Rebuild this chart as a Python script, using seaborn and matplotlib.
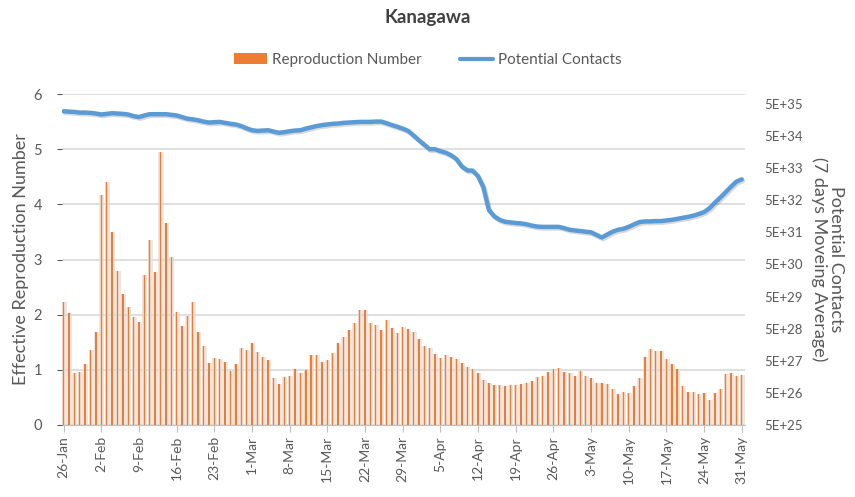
import numpy as np
import pandas as pd
import matplotlib
matplotlib.use("Agg")
import matplotlib.pyplot as plt
import matplotlib.patheffects as pe
from matplotlib.patches import Patch
from matplotlib.lines import Line2D
from matplotlib.ticker import FixedLocator, FuncFormatter, NullLocator
import seaborn as sns

# daily dates 26-Jan .. 31-May (2020)
dates = pd.date_range("2020-01-26", "2020-05-31", freq="D")

# effective reproduction number
repro = [2.23, 2.03, 0.94, 0.96, 1.11, 1.36, 1.69, 4.17, 4.40, 3.50,
         2.79, 2.38, 2.13, 1.96, 1.86, 2.71, 3.36, 2.77, 4.94, 3.67,
         3.05, 2.04, 1.79, 1.98, 2.23, 1.69, 1.44, 1.13, 1.21, 1.19,
         1.15, 0.98, 1.11, 1.40, 1.36, 1.48, 1.32, 1.23, 1.17, 0.85,
         0.75, 0.87, 0.88, 1.02, 0.94, 1.00, 1.27, 1.27, 1.15, 1.17,
         1.31, 1.48, 1.59, 1.73, 1.84, 2.08, 2.08, 1.84, 1.81, 1.73,
         1.90, 1.75, 1.67, 1.77, 1.74, 1.69, 1.56, 1.43, 1.40, 1.29,
         1.21, 1.27, 1.23, 1.20, 1.12, 1.06, 1.02, 0.94, 0.81, 0.77,
         0.72, 0.72, 0.71, 0.72, 0.73, 0.74, 0.77, 0.79, 0.87, 0.89,
         0.96, 1.02, 1.03, 0.96, 0.94, 0.89, 0.98, 0.88, 0.85, 0.77,
         0.77, 0.75, 0.65, 0.57, 0.60, 0.58, 0.71, 0.85, 1.23, 1.37,
         1.35, 1.35, 1.20, 1.11, 1.02, 0.71, 0.60, 0.60, 0.56, 0.58,
         0.46, 0.58, 0.65, 0.92, 0.94, 0.89, 0.91]

# potential contacts (7 day moving average), log10 of the value
contacts_log10 = [35.47, 35.46, 35.45, 35.43, 35.43, 35.42, 35.40, 35.37, 35.39, 35.41,
                  35.40, 35.39, 35.37, 35.32, 35.29, 35.34, 35.38, 35.38, 35.38, 35.38,
                  35.36, 35.34, 35.29, 35.24, 35.22, 35.19, 35.15, 35.12, 35.13, 35.14,
                  35.11, 35.08, 35.06, 35.01, 34.94, 34.88, 34.86, 34.87, 34.88, 34.84,
                  34.80, 34.82, 34.85, 34.87, 34.88, 34.93, 34.97, 35.01, 35.04, 35.06,
                  35.08, 35.09, 35.11, 35.12, 35.13, 35.14, 35.14, 35.14, 35.15, 35.15,
                  35.10, 35.04, 34.99, 34.93, 34.86, 34.72, 34.57, 34.43, 34.29, 34.29,
                  34.23, 34.18, 34.10, 33.98, 33.75, 33.63, 33.62, 33.45, 33.10, 32.40,
                  32.20, 32.09, 32.03, 32.01, 31.99, 31.98, 31.95, 31.91, 31.88, 31.87,
                  31.87, 31.87, 31.87, 31.83, 31.78, 31.76, 31.74, 31.72, 31.70, 31.62,
                  31.54, 31.63, 31.72, 31.78, 31.81, 31.87, 31.95, 32.02, 32.04, 32.04,
                  32.05, 32.05, 32.07, 32.09, 32.12, 32.15, 32.18, 32.22, 32.27, 32.33,
                  32.45, 32.62, 32.78, 32.95, 33.12, 33.28, 33.35]

left_ticks = [0, 1, 2, 3, 4, 5, 6]
right_exps = list(range(25, 36))

df = pd.DataFrame({"day": np.arange(len(dates)), "repro": repro,
                   "contacts": 10.0 ** np.array(contacts_log10)})
tick_days = list(range(0, len(dates), 7))
tick_labels = [f"{d.day}-{d.strftime('%b')}" for d in dates[tick_days]]

sns.set_style("white")
plt.rcParams["font.family"] = ["Lato", "DejaVu Sans"]
grey_txt = "#595959"
orange = "#ED7D31"
blue = "#5B9BD5"

fig = plt.figure(figsize=(8.55, 4.97), dpi=100)
ax = fig.add_axes([62 / 855, 1 - 425 / 497, (745 - 62) / 855, (425 - 94) / 497])

# shadow / halo / bar layers
ax.bar(df["day"] + 0.1, df["repro"], width=0.95, color="#a09890", alpha=0.22,
       linewidth=0, zorder=1)
ax.bar(df["day"], df["repro"], width=0.5, color="#F8CBAD", alpha=0.75,
       linewidth=0, zorder=2)
sns.barplot(data=df, x="day", y="repro", color=orange, width=0.26, saturation=1,
            ax=ax, zorder=3, native_scale=True, linewidth=0)

ax.set_xlim(-0.3, 126.6)
ax.set_ylim(0, 6)
ax.set_yticks(left_ticks)
ax.grid(axis="y", color="#d9d9d9", linewidth=1.2)
ax.set_axisbelow(False)
ax.set_xticks(tick_days)
ax.set_xticklabels(tick_labels, rotation=90)
ax.xaxis.set_minor_locator(NullLocator())
ax.tick_params(axis="x", bottom=True, length=5, color="#bfbfbf", colors=grey_txt,
               labelsize=10, pad=3)
ax.tick_params(axis="x", color="#bfbfbf")
ax.tick_params(axis="y", left=False, colors=grey_txt, labelsize=10.5, pad=11)
for s in ["top", "left", "right"]:
    ax.spines[s].set_visible(False)
ax.spines["bottom"].set_color("#bfbfbf")
ax.set_xlabel("")
ax.set_ylabel("Effective Reproduction Number", fontsize=13, color=grey_txt, labelpad=3)

ax2 = ax.twinx()
ax2.set_yscale("log")
sns.lineplot(data=df, x="day", y="contacts", ax=ax2, color=blue, linewidth=3.2,
             path_effects=[pe.SimpleLineShadow(offset=(1, -1.2), alpha=0.15), pe.Normal()])
ax2.set_ylim(5e25, 1.02e36)
ax2.yaxis.set_major_locator(FixedLocator([5 * 10.0 ** e for e in right_exps]))
ax2.yaxis.set_minor_locator(NullLocator())
ax2.yaxis.set_major_formatter(FuncFormatter(lambda v, p: f"5E+{int(round(np.log10(v / 5)))}"))
ax2.tick_params(axis="y", right=False, colors=grey_txt, labelsize=9.5, pad=10)
for s in ["top", "left", "right", "bottom"]:
    ax2.spines[s].set_visible(False)
ax2.set_xlabel("")
ax2.set_ylabel("Potential Contacts\n(7 days Moveing Average)", rotation=270,
               fontsize=13, color=grey_txt, labelpad=30, linespacing=1.05)
ax2.set_xlim(-0.3, 126.6)

fig.text(0.5, 1 - 18 / 497, "Kanagawa", ha="center", va="center",
         fontsize=13.5, fontweight="bold", color="#404040")
handles = [Patch(facecolor=orange, edgecolor="none"),
           Line2D([0], [0], color=blue, linewidth=3)]
fig.legend(handles, ["Reproduction Number", "Potential Contacts"], loc="center",
           bbox_to_anchor=(0.5, 1 - 60 / 497), ncol=2, frameon=False,
           fontsize=11, labelcolor=grey_txt, handlelength=2.2, handletextpad=0.3,
           columnspacing=2.5)

fig.savefig("out.png", dpi=100)
